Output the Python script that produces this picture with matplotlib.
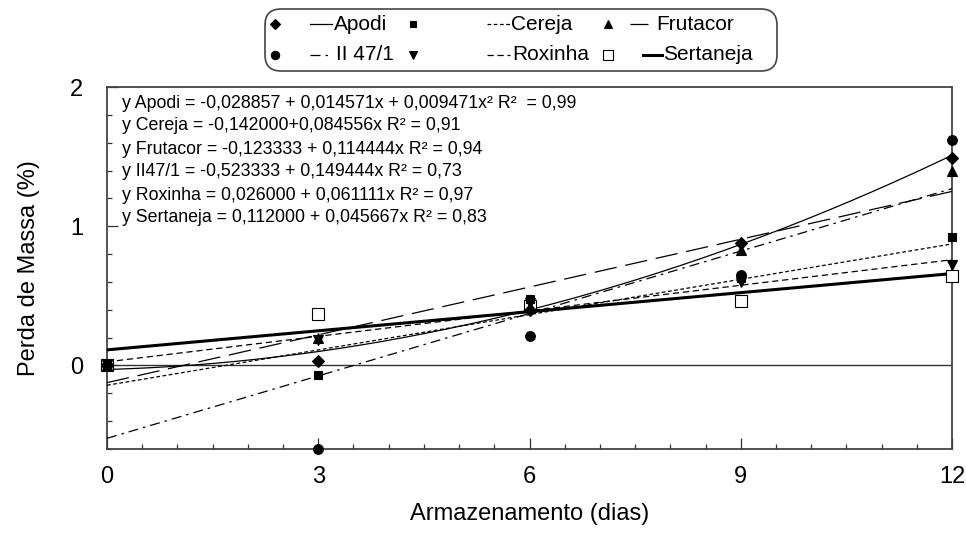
import numpy as np
import matplotlib
matplotlib.use('Agg')
import matplotlib.pyplot as plt
from matplotlib.patches import FancyBboxPatch
from matplotlib.ticker import MultipleLocator

plt.rcParams['font.family'] = ['Liberation Sans', 'DejaVu Sans']

# dados
dias = [0, 3, 6, 9, 12]
apodi = [0.0, 0.03, 0.40, 0.88, 1.49]
cereja = [0.0, -0.07, 0.48, 0.63, 0.92]
frutacor = [0.0, 0.20, 0.42, 0.83, 1.40]
ii47 = [0.0, -0.60, 0.21, 0.65, 1.62]
roxinha = [0.0, 0.18, 0.45, 0.60, 0.72]
sertaneja = [0.0, 0.37, 0.43, 0.46, 0.64]

# coeficientes das regressoes (a0, a1, a2)
coef_apodi = [-0.028857, 0.014571, 0.009471]
coef_cereja = [-0.142000, 0.084556]
coef_frutacor = [-0.123333, 0.114444]
coef_ii47 = [-0.523333, 0.149444]
coef_roxinha = [0.026000, 0.061111]
coef_sertaneja = [0.112000, 0.045667]

equacoes = [
    "y Apodi = -0,028857 + 0,014571x + 0,009471x\u00b2 R\u00b2  = 0,99",
    "y Cereja = -0,142000+0,084556x R\u00b2 = 0,91",
    "y Frutacor = -0,123333 + 0,114444x R\u00b2 = 0,94",
    "y II47/1 = -0,523333 + 0,149444x R\u00b2 = 0,73",
    "y Roxinha = 0,026000 + 0,061111x R\u00b2 = 0,97",
    "y Sertaneja = 0,112000 + 0,045667x R\u00b2 = 0,83",
]

# nome, pontos, coef, marcador, cheio, estilo linha, largura
series = [
    ("Sertaneja", sertaneja, coef_sertaneja, 's', False, '-', 2.2),
    ("Apodi", apodi, coef_apodi, 'D', True, '-', 0.9),
    ("II 47/1", ii47, coef_ii47, 'o', True, (0, (8, 4, 2, 4)), 0.9),
    ("Frutacor", frutacor, coef_frutacor, '^', True, (0, (18, 7)), 0.9),
    ("Roxinha", roxinha, coef_roxinha, 'v', True, (0, (5, 3)), 0.9),
    ("Cereja", cereja, coef_cereja, 's', True, (0, (3, 2)), 0.9),
]
msize = {'D': 6, 'o': 7, '^': 7, 'v': 7, 's': 6}

def tamanho(mk, cheio):
    # quadrado vazio e desenhado maior no original
    return msize[mk] if cheio else 8

fig = plt.figure(figsize=(9.66, 5.33), dpi=100)
ax = fig.add_axes([107/966, 1-449/533, (952-107)/966, (449-87)/533])

xx = np.linspace(0, 12, 200)
for nome, pts, coef, mk, cheio, ls, lw in series:
    yy = np.polynomial.polynomial.polyval(xx, coef)
    ax.plot(xx, yy, color='black', ls=ls, lw=lw, zorder=3)
for nome, pts, coef, mk, cheio, ls, lw in series:
    ax.plot(dias, pts, ls='none', marker=mk, ms=tamanho(mk, cheio), color='black',
            mfc='black' if cheio else 'white', mec='black', mew=0.8,
            clip_on=False, zorder=5)

ax.axhline(0, color='#333333', lw=1.0, zorder=2)

ax.set_xlim(0, 12)
ax.set_ylim(-0.6, 2)
ax.xaxis.set_major_locator(MultipleLocator(3))
ax.xaxis.set_minor_locator(MultipleLocator(0.5))
ax.yaxis.set_major_locator(MultipleLocator(1))
ax.yaxis.set_minor_locator(MultipleLocator(0.2))
ax.tick_params(which='both', direction='in', color='#333333', width=0.9)
ax.tick_params(which='major', length=8, labelsize=17)
ax.tick_params(axis='x', which='major', pad=12)
ax.tick_params(axis='y', which='major', pad=17)
ax.tick_params(which='minor', length=3.5)
for s in ax.spines.values():
    s.set_color('#444444')
    s.set_linewidth(1.3)

ax.set_xlabel("Armazenamento (dias)", fontsize=17, labelpad=11)
ax.set_ylabel("Perda de Massa (%)", fontsize=17, labelpad=22)

for i, eq in enumerate(equacoes):
    ax.text(0.0178, (449-103-i*23)/(449-87), eq, transform=ax.transAxes,
            fontsize=12.8, va='center', ha='left')

# legenda desenhada em coordenadas de pixel
lax = fig.add_axes([0, 0, 1, 1], zorder=10)
lax.set_xlim(0, 966)
lax.set_ylim(533, 0)
lax.axis('off')
lax.add_patch(FancyBboxPatch((265, 9), 512, 62,
                             boxstyle="round,pad=0,rounding_size=16",
                             fc='none', ec='#444444', lw=1.2))

leg_pos = {
    "Apodi": (275, 24, 310, 332, 334),
    "II 47/1": (275, 55, 310, 332, 336),
    "Cereja": (413, 24, 487, 510, 511),
    "Roxinha": (413, 55, 487, 510, 512),
    "Frutacor": (608, 24, 630, 648, 656),
    "Sertaneja": (608, 55, 643, 662, 663),
}
# o marcador de cada coluna na legenda segue a ordem do original
leg_mark = {
    "Apodi": ('D', True), "II 47/1": ('o', True), "Cereja": ('s', True),
    "Roxinha": ('v', True), "Frutacor": ('^', True), "Sertaneja": ('s', False),
}
for nome, pts, coef, mk, cheio, ls, lw in series:
    mx, y, x1, x2, tx = leg_pos[nome]
    m, f = leg_mark[nome]
    lax.plot([mx], [y], marker=m, ms=tamanho(m, f) - 1, color='black',
             mfc='black' if f else 'white', mec='black', mew=0.8)
    lax.plot([x1, x2], [y, y], color='black', ls=ls, lw=lw)
    lax.text(tx, y, nome, fontsize=15, va='center', ha='left')

fig.savefig("out.png", dpi=100)
